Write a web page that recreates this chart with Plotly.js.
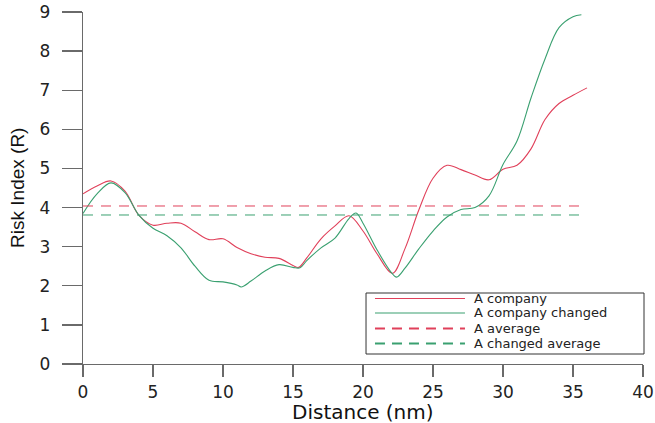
<!DOCTYPE html>
<html>
<head>
<meta charset="utf-8">
<script src="https://cdn.plot.ly/plotly-3.0.1.min.js"></script>
<style>html,body{margin:0;padding:0;background:#fff;}#chart{width:655px;height:423px;}</style>
</head>
<body>
<div id="chart"></div>
<script>
// Series: A company
var companyX = [0, 1, 2, 3, 4, 5, 6, 7, 8, 9, 10, 11, 12, 13, 14, 15, 15.4, 16, 17, 18, 19, 20, 21, 22.1, 23, 24, 25, 26, 27, 28, 29, 30, 31, 32, 33, 34, 35, 36];
var companyY = [4.35, 4.55, 4.68, 4.42, 3.8, 3.55, 3.6, 3.6, 3.38, 3.18, 3.2, 2.98, 2.82, 2.73, 2.7, 2.52, 2.47, 2.72, 3.2, 3.53, 3.79, 3.4, 2.82, 2.32, 2.95, 3.95, 4.75, 5.08, 4.97, 4.83, 4.71, 4.98, 5.08, 5.5, 6.25, 6.66, 6.87, 7.06];
// Series: A company changed
var changedX = [0, 1, 2, 3, 4, 5, 6, 7, 8, 9, 10, 11, 11.3, 12, 13, 14, 15, 15.5, 16, 17, 18, 19, 19.5, 20, 21, 22, 22.4, 23, 24, 25, 26, 27, 28, 29, 30, 31, 32, 33, 34, 35, 35.6];
var changedY = [3.85, 4.35, 4.63, 4.38, 3.8, 3.47, 3.28, 2.97, 2.5, 2.14, 2.1, 2.02, 1.97, 2.12, 2.38, 2.54, 2.47, 2.46, 2.65, 2.97, 3.22, 3.72, 3.86, 3.6, 2.92, 2.35, 2.22, 2.45, 2.95, 3.4, 3.76, 3.95, 4.0, 4.3, 5.1, 5.7, 6.8, 7.8, 8.6, 8.88, 8.93];
// Averages
var avgX = [0, 36];
var companyAvg = 4.04;
var changedAvg = 3.81;
// Labels
var seriesNames = ["A company", "A company changed", "A average", "A changed average"];
var xTicks = [0, 5, 10, 15, 20, 25, 30, 35, 40];
var yTicks = [0, 1, 2, 3, 4, 5, 6, 7, 8, 9];
var xTitle = "Distance (nm)";
var yTitle = "Risk Index (R)";

var RED = "#e0405a", GREEN = "#3aa070";

var traces = [
  {x: companyX, y: companyY, mode: "lines", name: seriesNames[0],
   line: {color: RED, width: 1.1, shape: "spline", smoothing: 1}},
  {x: changedX, y: changedY, mode: "lines", name: seriesNames[1],
   line: {color: GREEN, width: 1.1, shape: "spline", smoothing: 1}},
  {x: avgX, y: avgX.map(function(){return companyAvg;}), mode: "lines", name: seriesNames[2],
   line: {color: RED, width: 1, dash: "10px,8px"}},
  {x: avgX, y: avgX.map(function(){return changedAvg;}), mode: "lines", name: seriesNames[3],
   line: {color: GREEN, width: 1, dash: "10px,8px"}}
];

// custom legend (paper coordinates)
var lx0 = 0.5214, lx1 = 0.6821, tx = 0.6964;
var rows = [0.1861, 0.1449, 0.1009, 0.0582];
var legStyles = [
  {color: RED, width: 1.1, dash: "solid"},
  {color: GREEN, width: 1.1, dash: "solid"},
  {color: RED, width: 2, dash: "10px,7px"},
  {color: GREEN, width: 2, dash: "10px,7px"}
];
var shapes = [{type: "rect", xref: "paper", yref: "paper", x0: 0.5054, x1: 1.0018, y0: 0.0284, y1: 0.2017,
  line: {color: "#333", width: 1}, fillcolor: "rgba(255,255,255,0)"}];
var annotations = [];
for (var i = 0; i < 4; i++) {
  shapes.push({type: "line", xref: "paper", yref: "paper", x0: lx0, x1: lx1, y0: rows[i], y1: rows[i], line: legStyles[i]});
  annotations.push({xref: "paper", yref: "paper", x: tx, y: rows[i], xanchor: "left", yanchor: "middle",
    text: seriesNames[i], showarrow: false, borderpad: 0, font: {family: "DejaVu Sans", size: 13, color: "#222"}});
}
annotations.push({xref: "paper", yref: "paper", x: 0.5, y: -0.136, xanchor: "center", yanchor: "middle",
  text: xTitle, showarrow: false, font: {family: "DejaVu Sans", size: 20, color: "#111"}});
annotations.push({xref: "paper", yref: "paper", x: -0.118, y: 0.5, xanchor: "center", yanchor: "middle", textangle: -90,
  text: yTitle, showarrow: false, font: {family: "Liberation Sans", size: 19, color: "#111"}});

var axisCommon = {showline: true, linecolor: "#6a6a6a", linewidth: 1.3, ticks: "outside", tickcolor: "#6a6a6a",
  tickwidth: 1.3, showgrid: false, zeroline: false, tickfont: {family: "DejaVu Sans", size: 17, color: "#222"}};

var layout = {
  width: 655, height: 423,
  margin: {l: 83, r: 12, t: 12, b: 59},
  paper_bgcolor: "#fff", plot_bgcolor: "#fff",
  showlegend: false,
  xaxis: Object.assign({}, axisCommon, {range: [0, 40], tickvals: xTicks, ticktext: xTicks.map(String), ticklen: 12, ticklabelstandoff: 0}),
  yaxis: Object.assign({}, axisCommon, {range: [0, 9], tickvals: yTicks, ticktext: yTicks.map(String), ticklen: 20, ticklabelstandoff: 8}),
  shapes: shapes,
  annotations: annotations
};

Plotly.newPlot("chart", traces, layout, {displayModeBar: false, staticPlot: true});
</script>
</body>
</html>
